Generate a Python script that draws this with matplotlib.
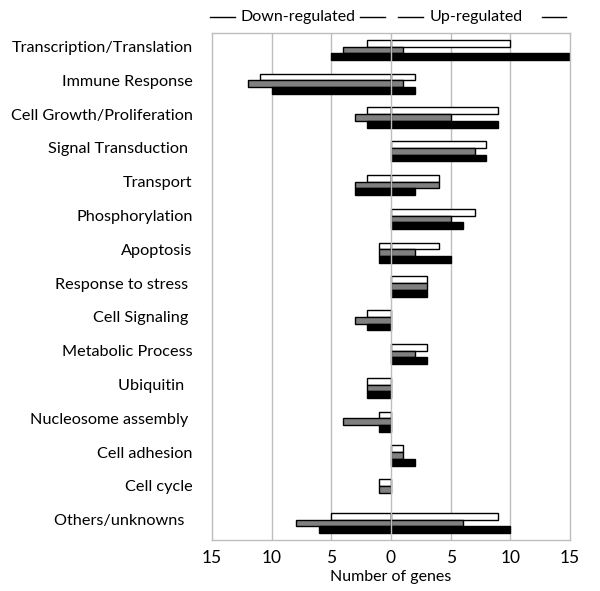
import matplotlib
matplotlib.use("Agg")
import matplotlib.pyplot as plt
import numpy as np
from matplotlib.lines import Line2D

plt.rcParams["font.family"] = ["Lato", "DejaVu Sans"]

categories = [
    "Transcription/Translation", "Immune Response", "Cell Growth/Proliferation",
    "Signal Transduction ", "Transport", "Phosphorylation", "Apoptosis",
    "Response to stress ", "Cell Signaling ", "Metabolic Process", "Ubiquitin  ",
    "Nucleosome assembly ", "Cell adhesion", "Cell cycle", "Others/unknowns  ",
]

# down-regulated counts (shown to the left) and up-regulated counts per series
white_down = [2, 11, 2, 0, 2, 0, 1, 0, 2, 0, 2, 1, 0, 1, 5]
white_up = [10, 2, 9, 8, 4, 7, 4, 3, 0, 3, 0, 0, 1, 0, 9]
gray_down = [4, 12, 3, 0, 3, 0, 1, 0, 3, 0, 2, 4, 0, 1, 8]
gray_up = [1, 1, 5, 7, 4, 5, 2, 3, 0, 2, 0, 0, 1, 0, 6]
black_down = [5, 10, 2, 0, 3, 0, 1, 0, 2, 0, 2, 1, 0, 0, 6]
black_up = [15, 2, 9, 8, 2, 6, 5, 3, 0, 3, 0, 0, 2, 0, 10]

ticks = [-15, -10, -5, 0, 5, 10, 15]
tick_labels = ["15", "10", "5", "0", "5", "10", "15"]

fig = plt.figure(figsize=(6, 5.91), dpi=100)
ax = fig.add_axes([212 / 600, 51 / 591, 358 / 600, 507 / 591])

y = np.arange(len(categories))
h = 0.2
series = [
    (white_down, white_up, "white", -h),
    (gray_down, gray_up, "#808080", 0),
    (black_down, black_up, "black", h),
]
for down, up, color, off in series:
    down = np.array(down, dtype=float)
    up = np.array(up, dtype=float)
    m = down > 0
    ax.barh(y[m] + off, -down[m], height=h, color=color, edgecolor="black",
            linewidth=1, zorder=2)
    m = up > 0
    ax.barh(y[m] + off, up[m], height=h, color=color, edgecolor="black",
            linewidth=1, zorder=2)

ax.set_xlim(-15, 15)
ax.set_ylim(len(categories) - 0.5, -0.5)
ax.set_xticks(ticks)
ax.set_xticklabels(tick_labels, fontsize=12.5)
ax.set_yticks(y - 0.1)
ax.set_yticklabels(categories, fontsize=11.7)
ax.tick_params(axis="both", length=0)
ax.tick_params(axis="y", pad=14)
ax.tick_params(axis="x", pad=7)

for t in ticks[1:-1]:
    ax.axvline(t, color="#bdbdbd", linewidth=1, zorder=1 if t else 3)
for s in ax.spines.values():
    s.set_color("#bdbdbd")
    s.set_linewidth(1)

ax.set_xlabel("Number of genes", fontsize=11.5, labelpad=3)

# header above the plot
fig.text(298 / 600, 1 - 17 / 591, "Down-regulated", ha="center", va="center",
         fontsize=11.5)
fig.text(476 / 600, 1 - 17 / 591, "Up-regulated", ha="center", va="center",
         fontsize=11.5)
for x0, x1 in [(210, 235), (360, 385), (398, 423), (542, 566)]:
    fig.add_artist(Line2D([x0 / 600, x1 / 600], [1 - 17 / 591] * 2,
                          color="black", linewidth=1))

fig.savefig("out.png", dpi=100)
